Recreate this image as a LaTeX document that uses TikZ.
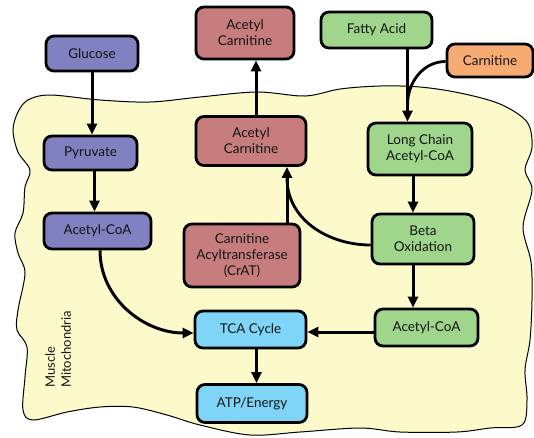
\documentclass[tikz,border=0pt]{standalone}
\usepackage{fontspec}
\setmainfont{Lato}
\usetikzlibrary{arrows.meta}
\definecolor{cpurple}{HTML}{8180C1}
\definecolor{cred}{HTML}{C77D7D}
\definecolor{cgreen}{HTML}{9FD68C}
\definecolor{corange}{HTML}{F6AB73}
\definecolor{cblue}{HTML}{7FD5F7}
\definecolor{cyellow}{HTML}{FCF9CB}
\definecolor{ctext}{HTML}{141414}
\tikzset{
  box/.style={draw=black, line width=2.8pt, rounded corners=8pt, align=center,
    text=ctext, font=\fontsize{13.5}{16}\selectfont, inner sep=2pt},
  arr/.style={line width=3pt, -{Triangle[length=11pt,width=10pt]}},
  link/.style={line width=2.8pt},
}
\begin{document}
\begin{tikzpicture}[x=1pt,y=-1pt]
\useasboundingbox (0,0) rectangle (534,437);
% mitochondria
\draw[fill=cyellow, line width=1pt] plot[smooth cycle, tension=0.55] coordinates {
 (18,112) (28,100) (50,95) (100,100) (150,102) (200,97) (257,92) (305,96)
 (340,89) (380,86) (420,87) (460,93) (500,104) (527,122) (532,147) (525,170)
 (532,190) (523,227) (531,262) (532,300) (530,340) (525,370) (527,400) (522,425)
 (490,428) (457,432) (400,432) (360,428) (300,432) (250,435) (200,425) (167,415)
 (133,407) (100,407) (67,412) (33,420) (23,410) (25,377) (27,347) (17,330)
 (18,310) (25,273) (18,253) (15,233) (23,213) (25,187) (30,170) (18,152) (13,130) };
\node[anchor=north west, rotate=90, align=left, inner sep=0pt, text=ctext,
  font=\fontsize{13}{16}\selectfont] (mito) at (45,388) {Muscle\\Mitochondria};

% nodes
\node[box, fill=cpurple, minimum width=92, minimum height=35] (glu) at (92,53.5) {Glucose};
\node[box, fill=cpurple, minimum width=93, minimum height=34] (pyr) at (90.5,153) {Pyruvate};
\node[box, fill=cpurple, minimum width=107, minimum height=36] (acl) at (97.5,231) {Acetyl-CoA};
\node[box, fill=cred, minimum width=98, minimum height=52] (act) at (245,33) {Acetyl\\Carnitine};
\node[box, fill=cred, minimum width=110, minimum height=49] (acm) at (251,141) {Acetyl\\Carnitine};
\node[box, fill=cred, minimum width=116, minimum height=63] (crat) at (242,255.5) {Carnitine\\Acyltransferase\\(CrAT)};
\node[box, fill=cgreen, minimum width=111, minimum height=36] (fa) at (376.5,30) {Fatty Acid};
\node[box, fill=corange, minimum width=86, minimum height=33] (car) at (490,60.5) {Carnitine};
\node[box, fill=cgreen, minimum width=104, minimum height=52] (lc) at (420,149) {Long Chain\\Acetyl-CoA};
\node[box, fill=cgreen, minimum width=102, minimum height=50] (bo) at (423,239) {Beta\\Oxidation};
\node[box, fill=cgreen, minimum width=103, minimum height=37] (acr) at (426.5,327.5) {Acetyl-CoA};
\node[box, fill=cblue, minimum width=111, minimum height=37] (tca) at (250.5,329.5) {TCA Cycle};
\node[box, fill=cblue, minimum width=110, minimum height=38] (atp) at (252,403.5) {ATP/Energy};

% join points
\coordinate (jl) at ([xshift=45pt]crat.north |- 0,178);
\coordinate (jr) at ([xshift=31pt]fa.south |- 0,105);

% connectors
\draw[arr] (glu.south) -- (glu.south |- pyr.north);
\draw[arr] ([xshift=4pt]pyr.south) -- ([xshift=4pt]pyr.south |- acl.north);
\draw[arr] ([xshift=2.5pt]acl.south) to[out=-90, in=180] ([yshift=-3.5pt]tca.west);
\draw[arr] ([xshift=5pt]acm.north) -- ([xshift=5pt]acm.north |- act.south);
\draw[arr] ([xshift=45pt]crat.north) -- ([xshift=45pt]crat.north |- acm.south);
\draw[link] ([yshift=-6pt]bo.west) to[out=180, in=-90] (jl);
\draw[arr] ([xshift=31pt]fa.south) -- ([xshift=31pt]fa.south |- lc.north);
\draw[link] ([yshift=-1pt]car.west) to[out=180, in=90] (jr);
\draw[arr] ([xshift=-7pt]lc.south) -- ([xshift=-7pt]lc.south |- bo.north);
\draw[arr] ([xshift=-10pt]bo.south) -- ([xshift=-10pt]bo.south |- acr.north);
\draw[arr] ([yshift=-4.5pt]acr.west) -- ([yshift=-4.5pt]acr.west -| tca.east);
\draw[arr] ([xshift=6pt]tca.south) -- ([xshift=6pt]tca.south |- atp.north);
\end{tikzpicture}
\end{document}
